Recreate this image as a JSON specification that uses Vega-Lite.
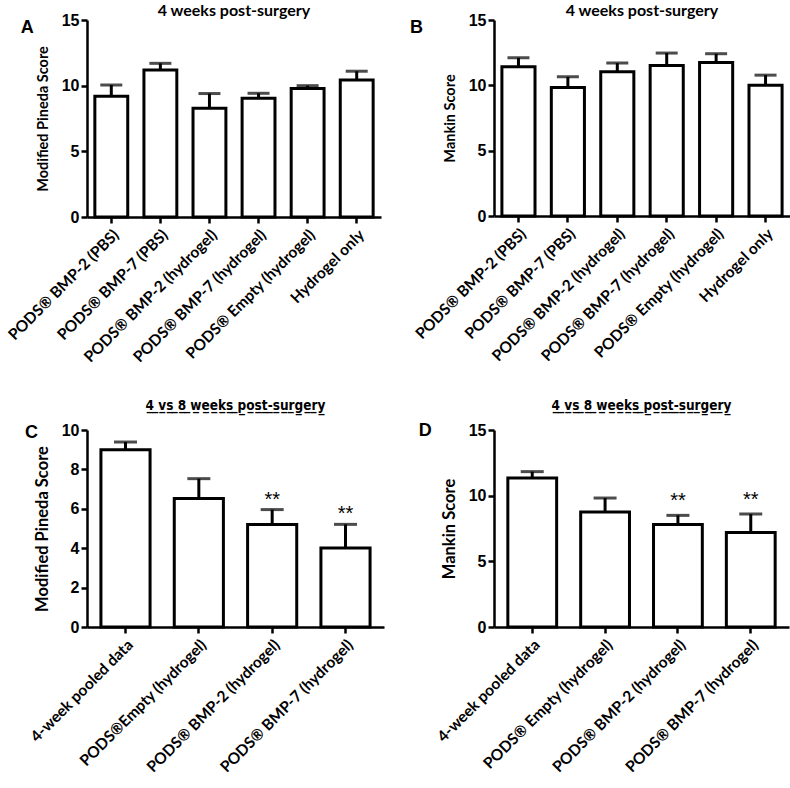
{
  "$schema": "https://vega.github.io/schema/vega-lite/v6.json",
  "background": "white",
  "padding": {"top": 3, "left": 5, "right": 5, "bottom": 5},
  "spacing": 32,
  "config": {
    "view": {"stroke": null},
    "axis": {
      "domainColor": "black", "domainWidth": 2.5, "tickColor": "black", "tickWidth": 2.5, "tickSize": 6,
      "grid": false, "labelColor": "black", "titleColor": "black", "labelOverlap": false, "labelLimit": 0
    },
    "axisY": {"labelFont": "Liberation Sans", "labelFontWeight": "bold", "labelFontSize": 16, "titleFont": "Lato", "titleFontWeight": "bold", "titleFontSize": 14.5, "titlePadding": 11, "labelPadding": 2},
    "axisX": {"labelFont": "Lato", "labelFontWeight": "bold", "labelFontSize": 15.5, "labelAngle": -45, "title": null, "labelPadding": 4},
    "title": {"font": "Lato", "fontWeight": "bold", "fontSize": 16, "color": "black"}
  },
  "vconcat": [
    {
      "spacing": 28,
      "hconcat": [
        {
          "title": {"text": "A", "anchor": "start", "offset": -34, "dx": 15, "font": "Liberation Sans", "fontSize": 18},
          "vconcat": [
            {
              "width": 294, "height": 197,
              "title": {"text": "4 weeks post-surgery", "offset": -7},
              "data": {"values": [
                {"group": "PODS® BMP-2 (PBS)", "mean": 9.2, "upper": 10.05},
                {"group": "PODS® BMP-7 (PBS)", "mean": 11.2, "upper": 11.7},
                {"group": "PODS® BMP-2 (hydrogel)", "mean": 8.28, "upper": 9.4},
                {"group": "PODS® BMP-7 (hydrogel)", "mean": 9.04, "upper": 9.42},
                {"group": "PODS® Empty (hydrogel)", "mean": 9.78, "upper": 10.0},
                {"group": "Hydrogel only", "mean": 10.43, "upper": 11.1}
              ]},
              "encoding": {"x": {"field": "group", "type": "nominal", "sort": null, "scale": {"paddingInner": 0.33, "paddingOuter": 0.16}}},
              "layer": [
                {"mark": {"type": "bar", "fill": "white", "stroke": "black", "strokeWidth": 3},
                 "encoding": {"y": {"field": "mean", "type": "quantitative", "scale": {"domain": [0, 15], "nice": false}, "axis": {"values": [0, 5, 10, 15], "tickCount": 10, "labelOverlap": false, "title": "Modified Pineda Score"}}}},
                {"mark": {"type": "rule", "strokeWidth": 3, "color": "black"},
                 "encoding": {"y": {"field": "mean", "type": "quantitative"}, "y2": {"field": "upper"}}},
                {"mark": {"type": "tick", "thickness": 3, "size": 22, "color": "black", "orient": "horizontal"},
                 "encoding": {"y": {"field": "upper", "type": "quantitative"}}}
              ]
            }
          ]
        },
        {
          "title": {"text": "B", "anchor": "start", "offset": -34, "dx": -3, "font": "Liberation Sans", "fontSize": 18},
          "vconcat": [
            {
              "width": 296, "height": 196,
              "title": {"text": "4 weeks post-surgery", "offset": -7},
              "data": {"values": [
                {"group": "PODS® BMP-2 (PBS)", "mean": 11.42, "upper": 12.11},
                {"group": "PODS® BMP-7 (PBS)", "mean": 9.83, "upper": 10.65},
                {"group": "PODS® BMP-2 (hydrogel)", "mean": 11.04, "upper": 11.7},
                {"group": "PODS® BMP-7 (hydrogel)", "mean": 11.52, "upper": 12.47},
                {"group": "PODS® Empty (hydrogel)", "mean": 11.75, "upper": 12.42},
                {"group": "Hydrogel only", "mean": 10.01, "upper": 10.78}
              ]},
              "encoding": {"x": {"field": "group", "type": "nominal", "sort": null, "scale": {"paddingInner": 0.33, "paddingOuter": 0.16}}},
              "layer": [
                {"mark": {"type": "bar", "fill": "white", "stroke": "black", "strokeWidth": 3},
                 "encoding": {"y": {"field": "mean", "type": "quantitative", "scale": {"domain": [0, 15], "nice": false}, "axis": {"values": [0, 5, 10, 15], "tickCount": 10, "labelOverlap": false, "title": "Mankin Score"}}}},
                {"mark": {"type": "rule", "strokeWidth": 3, "color": "black"},
                 "encoding": {"y": {"field": "mean", "type": "quantitative"}, "y2": {"field": "upper"}}},
                {"mark": {"type": "tick", "thickness": 3, "size": 22, "color": "black", "orient": "horizontal"},
                 "encoding": {"y": {"field": "upper", "type": "quantitative"}}}
              ]
            }
          ]
        }
      ]
    },
    {
      "spacing": 34,
      "hconcat": [
        {
          "title": {"text": "C", "anchor": "start", "offset": -43, "dx": -3, "font": "Liberation Sans", "fontSize": 18},
          "vconcat": [
            {
              "width": 297, "height": 197,
              "title": {"text": "4\u0332 \u0332v\u0332s\u0332 \u03328\u0332 \u0332w\u0332e\u0332e\u0332k\u0332s\u0332 \u0332p\u0332o\u0332s\u0332t\u0332-\u0332s\u0332u\u0332r\u0332g\u0332e\u0332r\u0332y\u0332", "font": "DejaVu Sans Condensed", "fontSize": 13.5, "offset": 10},
              "data": {"values": [
                {"group": "4-week pooled data", "mean": 9.0, "upper": 9.39, "sig": ""},
                {"group": "PODS®Empty (hydrogel)", "mean": 6.52, "upper": 7.53, "sig": ""},
                {"group": "PODS® BMP-2 (hydrogel)", "mean": 5.2, "upper": 5.96, "sig": "**"},
                {"group": "PODS® BMP-7 (hydrogel)", "mean": 4.01, "upper": 5.21, "sig": "**"}
              ]},
              "encoding": {"x": {"field": "group", "type": "nominal", "sort": null, "scale": {"paddingInner": 0.33, "paddingOuter": 0.19}}},
              "layer": [
                {"mark": {"type": "bar", "fill": "white", "stroke": "black", "strokeWidth": 3},
                 "encoding": {"y": {"field": "mean", "type": "quantitative", "scale": {"domain": [0, 10], "nice": false}, "axis": {"values": [0, 2, 4, 6, 8, 10], "tickCount": 12, "labelOverlap": false, "title": "Modified Pineda Score", "titleFontSize": 16.5}}}},
                {"mark": {"type": "rule", "strokeWidth": 3, "color": "black"},
                 "encoding": {"y": {"field": "mean", "type": "quantitative"}, "y2": {"field": "upper"}}},
                {"mark": {"type": "tick", "thickness": 3, "size": 23, "color": "black", "orient": "horizontal"},
                 "encoding": {"y": {"field": "upper", "type": "quantitative"}}},
                {"mark": {"type": "text", "font": "Liberation Sans", "fontSize": 20, "baseline": "bottom", "dy": 0, "color": "black"},
                 "encoding": {"y": {"field": "upper", "type": "quantitative"}, "text": {"field": "sig"}}}
              ]
            }
          ]
        },
        {
          "title": {"text": "D", "anchor": "start", "offset": -41, "dx": -16, "font": "Liberation Sans", "fontSize": 18},
          "vconcat": [
            {
              "width": 295, "height": 197,
              "title": {"text": "4\u0332 \u0332v\u0332s\u0332 \u03328\u0332 \u0332w\u0332e\u0332e\u0332k\u0332s\u0332 \u0332p\u0332o\u0332s\u0332t\u0332-\u0332s\u0332u\u0332r\u0332g\u0332e\u0332r\u0332y\u0332", "font": "DejaVu Sans Condensed", "fontSize": 13.5, "offset": 10},
              "data": {"values": [
                {"group": "4-week pooled data", "mean": 11.35, "upper": 11.83, "sig": ""},
                {"group": "PODS® Empty (hydrogel)", "mean": 8.76, "upper": 9.82, "sig": ""},
                {"group": "PODS® BMP-2 (hydrogel)", "mean": 7.8, "upper": 8.5, "sig": "**"},
                {"group": "PODS® BMP-7 (hydrogel)", "mean": 7.19, "upper": 8.6, "sig": "**"}
              ]},
              "encoding": {"x": {"field": "group", "type": "nominal", "sort": null, "scale": {"paddingInner": 0.33, "paddingOuter": 0.19}}},
              "layer": [
                {"mark": {"type": "bar", "fill": "white", "stroke": "black", "strokeWidth": 3},
                 "encoding": {"y": {"field": "mean", "type": "quantitative", "scale": {"domain": [0, 15], "nice": false}, "axis": {"values": [0, 5, 10, 15], "tickCount": 10, "labelOverlap": false, "title": "Mankin Score", "titleFontSize": 16.5}}}},
                {"mark": {"type": "rule", "strokeWidth": 3, "color": "black"},
                 "encoding": {"y": {"field": "mean", "type": "quantitative"}, "y2": {"field": "upper"}}},
                {"mark": {"type": "tick", "thickness": 3, "size": 23, "color": "black", "orient": "horizontal"},
                 "encoding": {"y": {"field": "upper", "type": "quantitative"}}},
                {"mark": {"type": "text", "font": "Liberation Sans", "fontSize": 20, "baseline": "bottom", "dy": -4, "color": "black"},
                 "encoding": {"y": {"field": "upper", "type": "quantitative"}, "text": {"field": "sig"}}}
              ]
            }
          ]
        }
      ]
    }
  ]
}
